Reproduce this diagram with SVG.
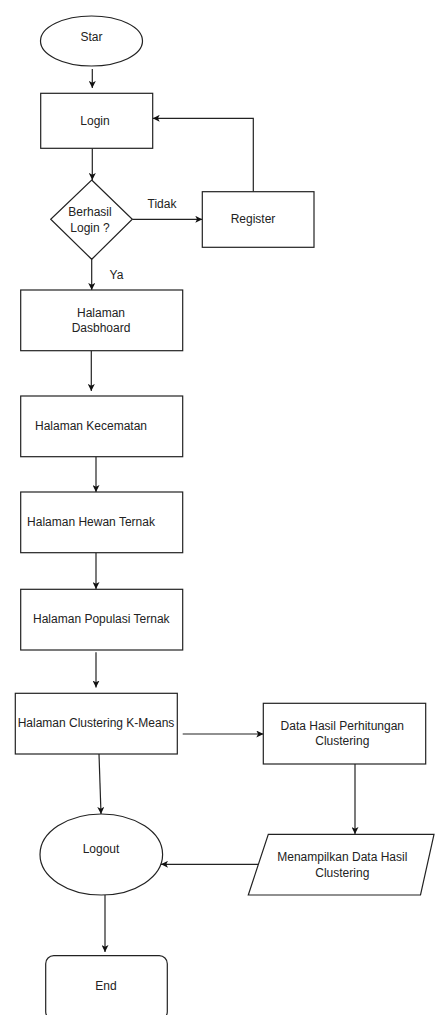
<svg xmlns="http://www.w3.org/2000/svg" width="435" height="1015" viewBox="0 0 435 1015">
<style>
.s{fill:#fff;stroke:#222;stroke-width:1.2}
.c{fill:none;stroke:#222;stroke-width:1.2}
text{font-family:"Liberation Sans",Arial,sans-serif;font-size:12px;fill:#222;text-anchor:middle;dominant-baseline:central}
</style>
<defs>
<marker id="a" viewBox="0 0 10 10" refX="10" refY="5" markerWidth="7" markerHeight="7" markerUnits="userSpaceOnUse" orient="auto">
<path d="M0,0 L10,5 L0,10 L2.5,5 Z" fill="#111"/>
</marker>
</defs>
<rect width="435" height="1015" fill="#fff"/>
<g id="connectors">
<line class="c" x1="92.3" y1="69" x2="92.3" y2="88" marker-end="url(#a)"/>
<line class="c" x1="92.3" y1="148.3" x2="92.3" y2="180" marker-end="url(#a)"/>
<line class="c" x1="132.3" y1="219.3" x2="202.3" y2="219.3" marker-end="url(#a)"/>
<polyline class="c" points="253.3,191.7 253.3,118.3 152.7,118.3" marker-end="url(#a)"/>
<line class="c" x1="91.7" y1="259.3" x2="91.7" y2="290" marker-end="url(#a)"/>
<line class="c" x1="91.3" y1="350.7" x2="91.3" y2="391" marker-end="url(#a)"/>
<line class="c" x1="96" y1="456.7" x2="96" y2="492" marker-end="url(#a)"/>
<line class="c" x1="96" y1="552.7" x2="96" y2="589" marker-end="url(#a)"/>
<line class="c" x1="96" y1="652.3" x2="96" y2="687.5" marker-end="url(#a)"/>
<line class="c" x1="182.7" y1="734" x2="263.3" y2="734" marker-end="url(#a)"/>
<line class="c" x1="355" y1="764" x2="355" y2="834" marker-end="url(#a)"/>
<line class="c" x1="99" y1="754" x2="101" y2="814" marker-end="url(#a)"/>
<line class="c" x1="258.3" y1="864.3" x2="161" y2="864.3" marker-end="url(#a)"/>
<line class="c" x1="105" y1="895" x2="105" y2="952" marker-end="url(#a)"/>
</g>
<g id="label-tidak"><text x="162" y="203.5">Tidak</text></g>
<g id="label-ya"><text x="116.5" y="275">Ya</text></g>
<g id="star"><ellipse class="s" cx="91.5" cy="41" rx="51" ry="25"/><text x="91.5" y="37">Star</text></g>
<g id="login"><rect class="s" x="40.7" y="93.3" width="112" height="55"/><text x="95" y="120.5">Login</text></g>
<g id="decision"><polygon class="s" points="91.7,180 132.3,219.3 91.7,259.3 50.7,219.3"/><text x="90" y="211.7">Berhasil</text><text x="90" y="227.7">Login ?</text></g>
<g id="register"><rect class="s" x="202.3" y="191.7" width="111.7" height="55.6"/><text x="253" y="219">Register</text></g>
<g id="dashboard"><rect class="s" x="20.7" y="290" width="162" height="60.7"/><text x="101" y="312.7">Halaman</text><text x="101" y="327.7">Dasbhoard</text></g>
<g id="kecamatan"><rect class="s" x="20.7" y="396" width="162" height="60.7"/><text x="91" y="425.7">Halaman Kecematan</text></g>
<g id="hewan"><rect class="s" x="20.7" y="492" width="162" height="60.7"/><text x="91" y="521.7">Halaman Hewan Ternak</text></g>
<g id="populasi"><rect class="s" x="20.7" y="589.3" width="162" height="60.7"/><text x="101.3" y="619">Halaman Populasi Ternak</text></g>
<g id="clustering"><rect class="s" x="15.3" y="693.3" width="162" height="60.7"/><text x="96" y="723.3">Halaman Clustering K-Means</text></g>
<g id="data"><rect class="s" x="263.3" y="703.3" width="162.4" height="60.7"/><text x="342.3" y="726">Data Hasil Perhitungan</text><text x="342.3" y="741">Clustering</text></g>
<g id="tampil"><polygon class="s" points="268.3,834.3 434,834.3 420.5,895 248.3,895"/><text x="342.3" y="857.3">Menampilkan Data Hasil</text><text x="342.3" y="872.7">Clustering</text></g>
<g id="logout"><ellipse class="s" cx="101.3" cy="854.5" rx="61.3" ry="40.5"/><text x="101" y="849.3">Logout</text></g>
<g id="end"><rect class="s" x="45.7" y="955.7" width="121.6" height="64" rx="8" ry="8"/><text x="106" y="985.7">End</text></g>
</svg>
